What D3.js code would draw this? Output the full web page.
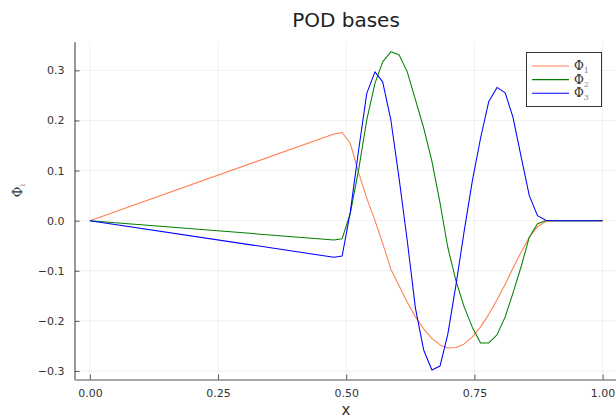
<!DOCTYPE html>
<html>
<head>
<meta charset="utf-8">
<script src="https://cdn.jsdelivr.net/npm/d3@7"></script>
<style>
  html, body { margin: 0; padding: 0; background: #fff; }
  svg { display: block; }
</style>
</head>
<body>
<svg id="chart" width="616" height="419"></svg>
<script>
// Grid points (x) where the mode shapes are sampled
const xs = [0, 0.476, 0.492, 0.508, 0.524, 0.540, 0.556, 0.571, 0.587, 0.603, 0.619,
  0.635, 0.651, 0.667, 0.683, 0.698, 0.714, 0.730, 0.746, 0.762, 0.778, 0.794,
  0.810, 0.825, 0.841, 0.857, 0.873, 0.889, 0.905, 0.921, 0.937, 0.952, 0.968,
  0.984, 1.0];

// POD mode 1
const phi1 = [0, 0.173, 0.176, 0.154, 0.096, 0.045, 0.0, -0.045, -0.097, -0.130,
  -0.163, -0.192, -0.216, -0.235, -0.248, -0.254, -0.253, -0.246, -0.232, -0.212,
  -0.187, -0.158, -0.127, -0.095, -0.063, -0.033, -0.012, -0.002, 0, 0, 0, 0, 0, 0, 0];

// POD mode 2
const phi2 = [0, -0.0386, -0.036, 0.015, 0.101, 0.201, 0.274, 0.317, 0.337, 0.331,
  0.297, 0.241, 0.185, 0.119, 0.035, -0.053, -0.120, -0.172, -0.213, -0.244,
  -0.244, -0.228, -0.192, -0.145, -0.092, -0.033, -0.006, 0, 0, 0, 0, 0, 0, 0, 0];

// POD mode 3
const phi3 = [0, -0.0731, -0.0705, 0.018, 0.140, 0.254, 0.297, 0.277, 0.201, 0.085,
  -0.040, -0.175, -0.258, -0.298, -0.290, -0.227, -0.128, -0.021, 0.080, 0.165,
  0.238, 0.266, 0.255, 0.207, 0.128, 0.050, 0.010, 0.001, 0, 0, 0, 0, 0, 0, 0];

const seriesNames = ["1", "2", "3"];
const seriesColors = ["#ff7f50", "#008000", "#0000ff"];
const seriesData = [phi1, phi2, phi3];

const xTicks = [0, 0.25, 0.5, 0.75, 1.0];
const yTicks = [-0.3, -0.2, -0.1, 0.0, 0.1, 0.2, 0.3];

const svg = d3.select("#chart");
const plot = { left: 74.5, right: 618, top: 42.3, bottom: 379.5 };

const x = d3.scaleLinear().domain([-0.03, 1.03]).range([plot.left, plot.right]);
const y = d3.scaleLinear().domain([-0.317, 0.356]).range([plot.bottom, plot.top]);

const font = "'DejaVu Sans', sans-serif";

// grid
const grid = svg.append("g").attr("stroke", "#000").attr("stroke-opacity", 0.1).attr("stroke-width", 0.6);
xTicks.forEach(t => grid.append("line")
  .attr("x1", x(t)).attr("x2", x(t)).attr("y1", plot.top).attr("y2", plot.bottom));
yTicks.forEach(t => grid.append("line")
  .attr("x1", plot.left).attr("x2", plot.right).attr("y1", y(t)).attr("y2", y(t)));

// axes
const xAxis = d3.axisBottom(x).tickValues(xTicks).tickFormat(d3.format(".2f"))
  .tickSizeInner(-5).tickSizeOuter(0).tickPadding(10);
const yAxis = d3.axisLeft(y).tickValues(yTicks).tickFormat(d => d3.format(".1f")(d).replace("-", "\u2212"))
  .tickSizeInner(-5).tickSizeOuter(0).tickPadding(10);

const gx = svg.append("g").attr("transform", `translate(0,${plot.bottom})`).call(xAxis);
const gy = svg.append("g").attr("transform", `translate(${plot.left},0)`).call(yAxis);
[gx, gy].forEach(g => {
  g.select(".domain").attr("stroke", "#555").attr("stroke-width", 1.2);
  g.selectAll(".tick line").attr("stroke", "#555").attr("stroke-width", 1);
  g.selectAll(".tick text").attr("fill", "#333").style("font-family", font).style("font-size", "11px");
});
gy.select(".domain").attr("d", `M0.5,${plot.top}V${plot.bottom}`);
gx.select(".domain").attr("d", `M${plot.left},0.5H${plot.right}`);

// mode curves
const line = d3.line().x((d, i) => x(xs[i])).y(d => y(d));
seriesData.forEach((s, k) => {
  svg.append("path").datum(s)
    .attr("fill", "none")
    .attr("stroke", seriesColors[k])
    .attr("stroke-width", 1.05)
    .attr("stroke-linejoin", "round")
    .attr("d", line);
});

// title
svg.append("text").attr("x", 346).attr("y", 27).attr("text-anchor", "middle")
  .style("font-family", font).style("font-size", "20px").attr("fill", "#222")
  .text("POD bases");

// axis labels
svg.append("text").attr("x", 346).attr("y", 415).attr("text-anchor", "middle")
  .style("font-family", font).style("font-size", "15px").attr("fill", "#333")
  .text("x");

const yl = svg.append("text")
  .attr("transform", `translate(22,${y(0.06)}) rotate(-90)`)
  .attr("text-anchor", "middle")
  .style("font-family", "'DejaVu Serif', serif").style("font-size", "13px").attr("fill", "#333");
yl.append("tspan").text("\u03A6");
yl.append("tspan").attr("dy", 3).style("font-size", "8px").attr("fill", "#888").text("i");

// legend
const lg = svg.append("g");
lg.append("rect").attr("x", 526.5).attr("y", 52.5).attr("width", 75).attr("height", 54)
  .attr("fill", "#fff").attr("stroke", "#333").attr("stroke-width", 1);
seriesNames.forEach((n, k) => {
  const ly = 66 + k * 13.6;
  lg.append("line").attr("x1", 532).attr("x2", 569).attr("y1", ly).attr("y2", ly)
    .attr("stroke", seriesColors[k]).attr("stroke-width", 1.05);
  const t = lg.append("text").attr("x", 574).attr("y", ly + 4)
    .style("font-family", "'DejaVu Serif', serif").style("font-size", "12px").attr("fill", "#333");
  t.append("tspan").text("\u03A6");
  t.append("tspan").attr("dy", 3).style("font-size", "8px").attr("fill", "#888").text(n);
});
</script>
</body>
</html>
